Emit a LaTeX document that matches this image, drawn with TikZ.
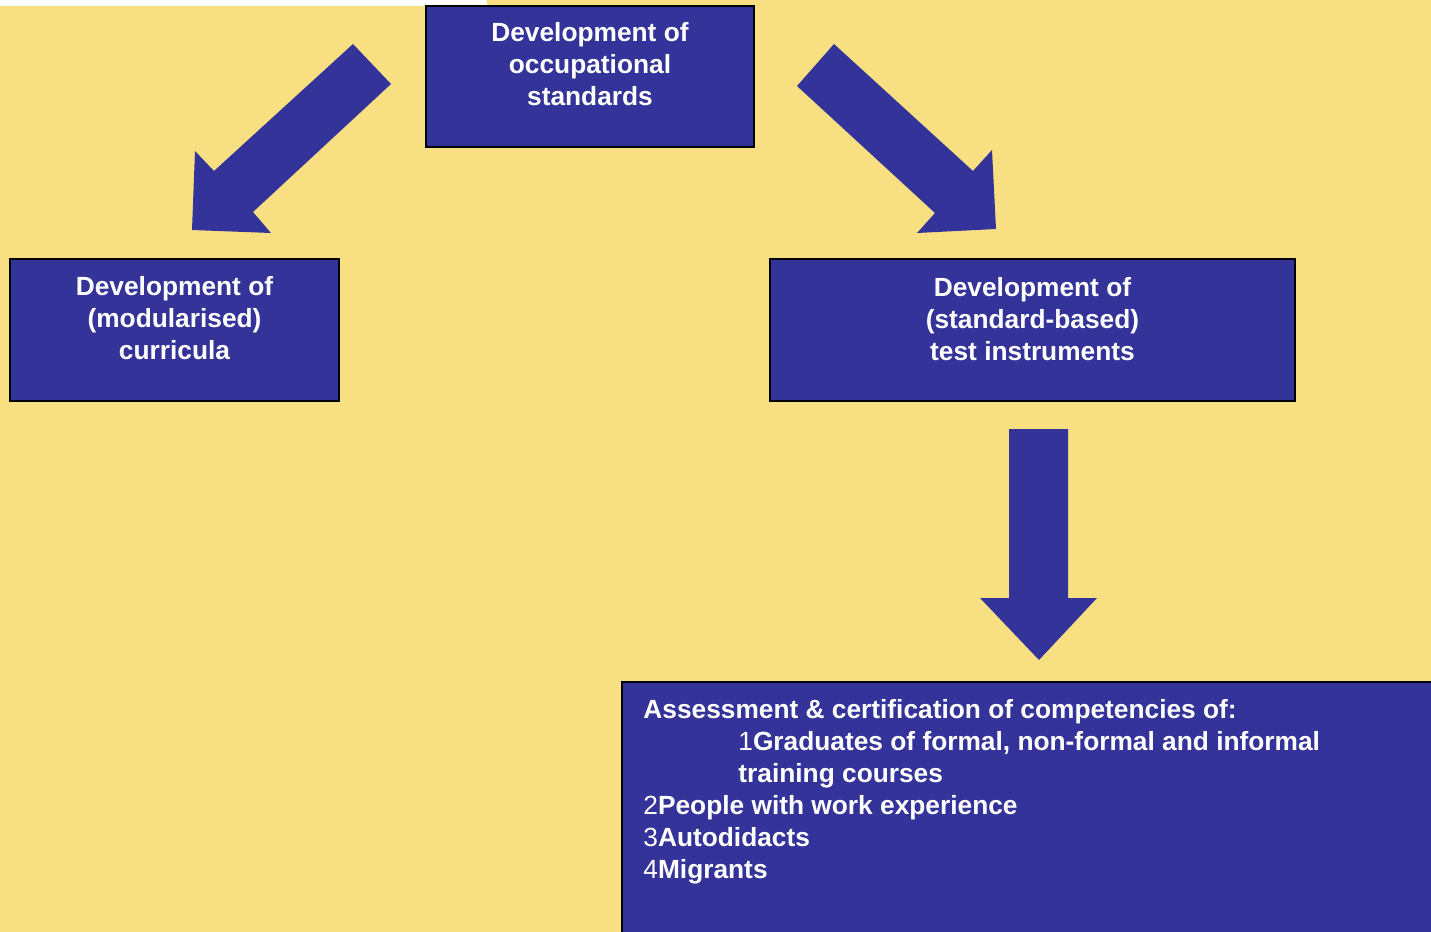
\documentclass[tikz,border=0pt]{standalone}
\usepackage{fontspec}
\setmainfont{Liberation Sans}
\definecolor{paper}{HTML}{F8E082}
\definecolor{navy}{HTML}{333399}
\tikzset{
  box/.style={draw=black, line width=1pt, fill=navy, inner sep=0pt},
  lbl/.style={text=white, font=\bfseries\fontsize{13.15}{16}\selectfont, align=center, inner sep=0pt},
  listlbl/.style={text=white, font=\bfseries\fontsize{13.15}{16}\selectfont, align=left, inner sep=0pt, anchor=north west},
  blockarrow/.style={fill=navy, draw=none},
}
\begin{document}
\begin{tikzpicture}[x=0.5pt, y=-0.5pt]
\clip (0,0) rectangle (1431,932);
% background
\fill[paper] (0,0) rectangle (1431,932);
\fill[white] (0,0) rectangle (487,6);

% boxes
\node[box, minimum width=164pt, minimum height=70.5pt] (stdbox) at (590,76.5) {};
\node[lbl] (stdtext) at (590,64.5) {Development of\\occupational\\standards};

\node[box, minimum width=164.5pt, minimum height=71pt] (curbox) at (174.5,330) {};
\node[lbl] (curtext) at (174.5,318) {Development of\\(modularised)\\curricula};

\node[box, minimum width=262.5pt, minimum height=71pt] (testbox) at (1032.5,330) {};
\node[lbl] (testtext) at (1032.5,319) {Development of\\(standard-based)\\test instruments};

\node[box, minimum width=411.5pt, minimum height=134pt] (assbox) at (1033.5,816) {};
\node[listlbl] (asstext) at (643,699) {Assessment \& certification of competencies of:\\
\hspace*{47.5pt}{\mdseries 1}Graduates of formal, non-formal and informal\\
\hspace*{47.5pt}training courses\\
{\mdseries 2}People with work experience\\
{\mdseries 3}Autodidacts\\
{\mdseries 4}Migrants};

% block arrows
\fill[blockarrow] (353,44) -- (391,84) -- (253,212) -- (271,233) -- (192,230) -- (195,151) -- (214,171) -- cycle;
\fill[blockarrow] (834,44) -- (973,171) -- (992,150) -- (996,229) -- (917,233) -- (935,213) -- (797,86) -- cycle;
\fill[blockarrow] (1009,429) -- (1068,429) -- (1068,598) -- (1097,598) -- (1039,660) -- (980,598) -- (1009,598) -- cycle;
\end{tikzpicture}
\end{document}
